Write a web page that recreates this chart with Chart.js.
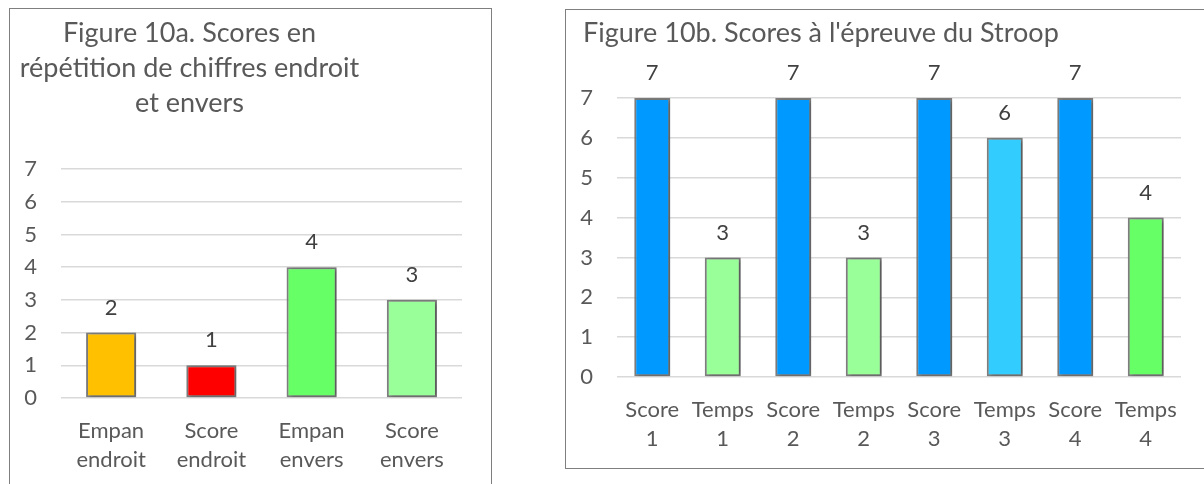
<!DOCTYPE html>
<html>
<head>
<meta charset="utf-8">
<script src="https://cdn.jsdelivr.net/npm/chart.js@4.4.1/dist/chart.umd.min.js"></script>
<style>
  html, body { margin: 0; padding: 0; background: #fff; overflow: hidden; width: 1204px; height: 484px; }
  .box { position: absolute; border: 1px solid #7f7f7f; box-sizing: border-box; background: #fff; }
  .wrap { position: absolute; left: 0; top: 0; }
</style>
</head>
<body>
<div class="box" style="left:9px; top:8px; width:483px; height:490px;">
  <div class="wrap" style="width:481px; height:475px;"><canvas id="chart-a"></canvas></div>
</div>
<div class="box" style="left:565px; top:9px; width:700px; height:460px;">
  <div class="wrap" style="width:638px; height:458px;"><canvas id="chart-b"></canvas></div>
</div>
<script>
const titleA = ['Figure 10a. Scores en', 'répétition de chiffres endroit', 'et envers'];
const labelsA = [['Empan', 'endroit'], ['Score', 'endroit'], ['Empan', 'envers'], ['Score', 'envers']];
const valuesA = [2, 1, 4, 3];
const colorsA = ['#FFC000', '#FF0000', '#66FF66', '#99FF99'];

const titleB = ["Figure 10b. Scores à l'épreuve du Stroop"];
const labelsB = [['Score', '1'], ['Temps', '1'], ['Score', '2'], ['Temps', '2'],
                 ['Score', '3'], ['Temps', '3'], ['Score', '4'], ['Temps', '4']];
const valuesB = [7, 3, 7, 3, 7, 6, 7, 4];
const colorsB = ['#0099FF', '#99FF99', '#0099FF', '#99FF99', '#0099FF', '#33CCFF', '#0099FF', '#66FF66'];

const yTicks = [0, 1, 2, 3, 4, 5, 6, 7];

const FONT = 'Lato, "Open Sans", sans-serif';
const GREY = '#595959';

// ombre portée sous les barres
const shadowPlugin = {
    id: 'barShadow',
    beforeDatasetsDraw(chart) {
        const ctx = chart.ctx;
        ctx.save();
        ctx.shadowColor = 'rgba(0, 0, 0, 0.35)';
        ctx.shadowBlur = 4;
        ctx.shadowOffsetX = 2;
        ctx.shadowOffsetY = 1;
    },
    afterDatasetsDraw(chart) {
        chart.ctx.restore();
    }
};

// valeurs au-dessus des barres
const valueLabels = {
    id: 'valueLabels',
    afterDatasetsDraw(chart) {
        const ctx = chart.ctx;
        const meta = chart.getDatasetMeta(0);
        const data = chart.data.datasets[0].data;
        ctx.save();
        ctx.font = '22px ' + FONT;
        ctx.fillStyle = '#404040';
        ctx.textAlign = 'center';
        ctx.textBaseline = 'middle';
        meta.data.forEach((bar, i) => {
            ctx.fillText(String(data[i]), bar.x, bar.y - 25);
        });
        ctx.restore();
    }
};

// titre dessiné à la main (alignement comme dans Excel)
const titleText = {
    id: 'titleText',
    afterDraw(chart, args, opts) {
        const ctx = chart.ctx;
        ctx.save();
        ctx.font = opts.size + 'px ' + FONT;
        ctx.fillStyle = GREY;
        ctx.textAlign = opts.align;
        ctx.textBaseline = 'alphabetic';
        opts.lines.forEach((line, i) => {
            ctx.fillText(line, opts.x, opts.y + i * opts.lineGap);
        });
        ctx.restore();
    }
};

function makeChart(id, labels, values, colors, barPct, yWidth, xHeight, padding, title) {
    return new Chart(document.getElementById(id), {
        type: 'bar',
        data: {
            labels: labels,
            datasets: [{
                data: values,
                backgroundColor: colors,
                borderColor: '#7f7f7f',
                borderWidth: 2,
                borderSkipped: false,
                barPercentage: barPct,
                categoryPercentage: 1
            }]
        },
        options: {
            responsive: true,
            maintainAspectRatio: false,
            animation: false,
            layout: { padding: padding },
            plugins: {
                legend: { display: false },
                tooltip: { enabled: false },
                titleText: title
            },
            scales: {
                y: {
                    min: 0,
                    max: 7,
                    afterBuildTicks: (scale) => { scale.ticks = yTicks.map(v => ({ value: v })); },
                    afterFit: (scale) => { scale.width = yWidth; },
                    ticks: { color: GREY, font: { family: FONT, size: 22 }, padding: 24 },
                    grid: { color: '#d9d9d9', lineWidth: 1.5, drawTicks: false },
                    border: { display: false }
                },
                x: {
                    afterFit: (scale) => { scale.height = xHeight; },
                    ticks: { color: GREY, font: { family: FONT, size: 22, lineHeight: 1.3 }, padding: 11, maxRotation: 0, autoSkip: false },
                    grid: { display: false },
                    border: { display: false }
                }
            }
        },
        plugins: [shadowPlugin, valueLabels, titleText]
    });
}

makeChart('chart-a', labelsA, valuesA, colorsA, 0.5, 51, 86,
    { top: 160, right: 29, bottom: 0, left: 0 },
    { lines: titleA, x: 179.5, y: 32.7, lineGap: 35, size: 27, align: 'center' });

makeChart('chart-b', labelsB, valuesB, colorsB, 0.51, 51, 91,
    { top: 88, right: 23, bottom: 0, left: 0 },
    { lines: titleB, x: 17, y: 31.7, lineGap: 35, size: 27, align: 'left' });
</script>
</body>
</html>
